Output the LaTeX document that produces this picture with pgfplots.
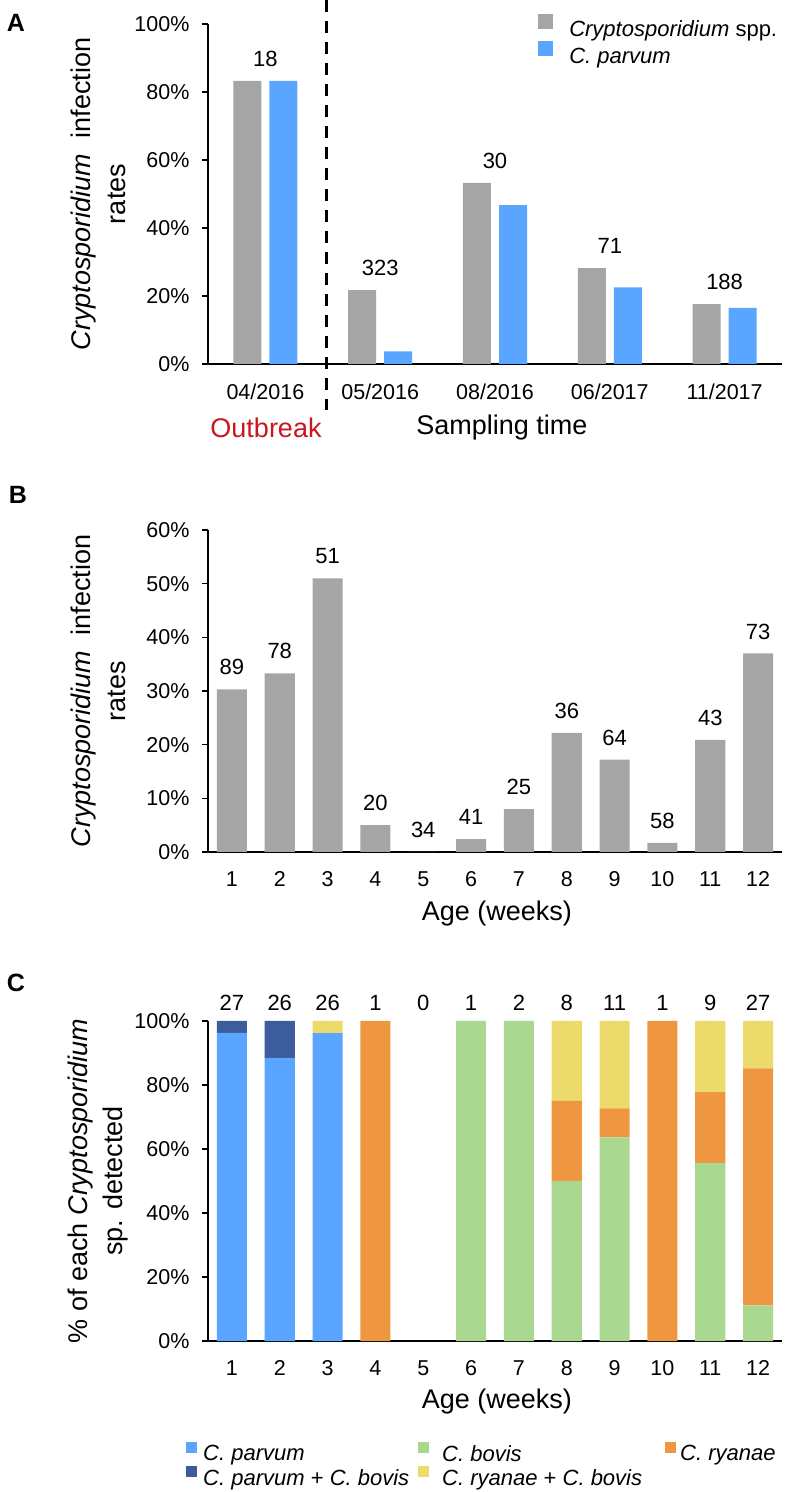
\documentclass[border=0pt]{standalone}
\usepackage{pgfplots}
\pgfplotsset{compat=1.18}
\usepackage{fontspec}
\setmainfont{Liberation Sans}
\definecolor{cgray}{HTML}{A5A5A5}
\definecolor{cblue}{HTML}{5AA5FF}
\definecolor{cdblue}{HTML}{3C5C9C}
\definecolor{cgreen}{HTML}{ABD890}
\definecolor{corange}{HTML}{EF9640}
\definecolor{cyellow}{HTML}{ECDB6A}
\definecolor{cred}{HTML}{C8181E}
\newcommand{\tickfont}{\fontsize{21.5}{25}\selectfont}
\newcommand{\titlefont}{\fontsize{27}{35}\selectfont}
\newcommand{\legfont}{\fontsize{22}{26}\selectfont}
\pgfplotsset{
  panel/.style={
    scale only axis, width=574pt, clip=false,
    axis x line*=bottom, axis y line*=left,
    axis line style={-, line width=1.2pt, black},
    tick align=outside, major tick length=6pt,
    ytick style={line width=1.2pt, black},
    xtick style={draw=none},
    /pgf/number format/assume math mode=true,
    every tick label/.append style={font=\tickfont},
    yticklabel style={xshift=-9pt},
    xticklabel style={yshift=-10pt},
  },
  cnt/.style={forget plot, only marks, mark=*, mark size=0pt,
    mark options={draw=none, fill=none},
    nodes near coords, point meta=explicit symbolic,
    every node near coord/.style={font=\legfont, anchor=center, yshift=#1}},
}
\begin{document}
\begin{tikzpicture}[x=1pt,y=1pt]
\useasboundingbox (0,0) rectangle (787,1492);
% ---------------- Panel A
\begin{axis}[panel, at={(208pt,1128pt)}, anchor=south west, height=340pt,
  xmin=-0.5, xmax=4.5, ymin=0, ymax=100,
  ytick={0,20,40,60,80,100}, yticklabels={0\%,20\%,40\%,60\%,80\%,100\%},
  xtick={0,1,2,3,4}, xticklabels={04/2016,05/2016,08/2016,06/2017,11/2017},
  legend style={at={(axis description cs:0.575,1.03)}, anchor=north west,
    draw=none, fill=none, inner sep=0pt, font=\legfont, row sep=1.5pt},
  legend cell align=left]
\addplot[ybar, bar width=0.244, bar shift=-0.157, fill=cgray, draw=none,
  legend image code/.code={\fill[cgray] (0pt,0pt) rectangle (15pt,15pt); \path (29pt,0pt);}]
  coordinates {(0,83.3) (1,21.7) (2,53.3) (3,28.2) (4,17.6)};
\addlegendentry{\textit{Cryptosporidium} spp.}
\addplot[ybar, bar width=0.244, bar shift=0.157, fill=cblue, draw=none,
  legend image code/.code={\fill[cblue] (0pt,0pt) rectangle (15pt,15pt); \path (29pt,0pt);}]
  coordinates {(0,83.3) (1,3.7) (2,46.7) (3,22.5) (4,16.5)};
\addlegendentry{\textit{C. parvum}}
\addplot[cnt=22pt] coordinates {(0,83.3)[18] (1,21.7)[323] (2,53.3)[30] (3,28.2)[71] (4,17.6)[188]};
\end{axis}
\draw[line width=3pt, dash pattern=on 12pt off 9pt] (326,1492) -- (326,1082);
\node[font=\fontsize{25}{30}\selectfont\bfseries] at (16,1469) {A};
\node[font=\titlefont, rotate=90, align=center] at (98,1298) {\textit{Cryptosporidium}\ \ infection\\rates};
\node[font=\titlefont, text=cred] at (266,1064) {Outbreak};
\node[font=\titlefont] at (502,1064) {Sampling time};
% ---------------- Panel B
\begin{axis}[panel, at={(208pt,640pt)}, anchor=south west, height=322pt,
  xmin=0.5, xmax=12.5, ymin=0, ymax=60,
  ytick={0,10,20,30,40,50,60}, yticklabels={0\%,10\%,20\%,30\%,40\%,50\%,60\%},
  xtick={1,...,12}]
\addplot[ybar, bar width=0.63, bar shift=0, fill=cgray, draw=none]
  coordinates {(1,30.3) (2,33.3) (3,51.0) (4,5.0) (5,0) (6,2.4) (7,8.0) (8,22.2) (9,17.2) (10,1.7) (11,20.9) (12,37.0)};
\addplot[cnt=22pt] coordinates {(1,30.3)[89] (2,33.3)[78] (3,51.0)[51] (4,5.0)[20] (5,0)[34] (6,2.4)[41] (7,8.0)[25] (8,22.2)[36] (9,17.2)[64] (10,1.7)[58] (11,20.9)[43] (12,37.0)[73]};
\end{axis}
\node[font=\fontsize{25}{30}\selectfont\bfseries] at (18,997) {B};
\node[font=\titlefont, rotate=90, align=center] at (98,801) {\textit{Cryptosporidium}\ \ infection\\rates};
\node[font=\titlefont] at (497,578) {Age (weeks)};
% ---------------- Panel C
\begin{axis}[panel, at={(208pt,151pt)}, anchor=south west, height=320pt,
  xmin=0.5, xmax=12.5, ymin=0, ymax=100,
  ytick={0,20,40,60,80,100}, yticklabels={0\%,20\%,40\%,60\%,80\%,100\%},
  xtick={1,...,12},
  ybar stacked, bar width=0.63,
  legend columns=3,
  legend style={at={(axis description cs:-0.0383,-0.315)}, anchor=north west,
    draw=none, fill=none, inner sep=0pt, font=\legfont, row sep=1.5pt},
  legend cell align=left]
\addplot[fill=cblue, draw=none, legend image code/.code={\fill[cblue] (0pt,1pt) rectangle (11pt,12pt); \path (15pt,0pt);}]
  coordinates {(1,96.3) (2,88.5) (3,96.2) (4,0) (5,0) (6,0) (7,0) (8,0) (9,0) (10,0) (11,0) (12,0)};
\addlegendentry{\makebox[213pt][l]{\textit{C. parvum}}}
\addplot[fill=cgreen, draw=none, legend image code/.code={\fill[cgreen] (0pt,1pt) rectangle (11pt,12pt); \path (15pt,0pt);}]
  coordinates {(1,0) (2,0) (3,0) (4,0) (5,0) (6,100) (7,100) (8,50) (9,63.6) (10,0) (11,55.6) (12,11.1)};
\addlegendentry{\makebox[228pt][l]{\hspace{7pt}\textit{C. bovis}}}
\addplot[fill=corange, draw=none, legend image code/.code={\fill[corange] (0pt,1pt) rectangle (11pt,12pt); \path (13pt,0pt);}]
  coordinates {(1,0) (2,0) (3,0) (4,100) (5,0) (6,0) (7,0) (8,25) (9,9.1) (10,100) (11,22.2) (12,74.1)};
\addlegendentry{\textit{C. ryanae}}
\addplot[fill=cdblue, draw=none, legend image code/.code={\fill[cdblue] (0pt,1pt) rectangle (11pt,12pt); \path (15pt,0pt);}]
  coordinates {(1,3.7) (2,11.5) (3,0) (4,0) (5,0) (6,0) (7,0) (8,0) (9,0) (10,0) (11,0) (12,0)};
\addlegendentry{\makebox[213pt][l]{\textit{C. parvum} + \textit{C. bovis}}}
\addplot[fill=cyellow, draw=none, legend image code/.code={\fill[cyellow] (0pt,1pt) rectangle (11pt,12pt); \path (15pt,0pt);}]
  coordinates {(1,0) (2,0) (3,3.8) (4,0) (5,0) (6,0) (7,0) (8,25) (9,27.3) (10,0) (11,22.2) (12,14.8)};
\addlegendentry{\makebox[228pt][l]{\hspace{7pt}\textit{C. ryanae} + \textit{C. bovis}}}
\end{axis}
\begin{axis}[at={(208pt,151pt)}, anchor=south west, scale only axis, width=574pt, height=320pt,
  xmin=0.5, xmax=12.5, ymin=0, ymax=100, hide axis, clip=false]
\addplot[cnt=18pt] coordinates {(1,100)[27] (2,100)[26] (3,100)[26] (4,100)[1] (5,100)[0] (6,100)[1] (7,100)[2] (8,100)[8] (9,100)[11] (10,100)[1] (11,100)[9] (12,100)[27]};
\end{axis}
\node[font=\fontsize{25}{30}\selectfont\bfseries] at (16,509) {C};
\node[font=\titlefont, rotate=90, align=center] at (98,311) {\% of each \textit{Cryptosporidium}\\sp. detected};
\node[font=\titlefont] at (497,90) {Age (weeks)};
\end{tikzpicture}
\end{document}
